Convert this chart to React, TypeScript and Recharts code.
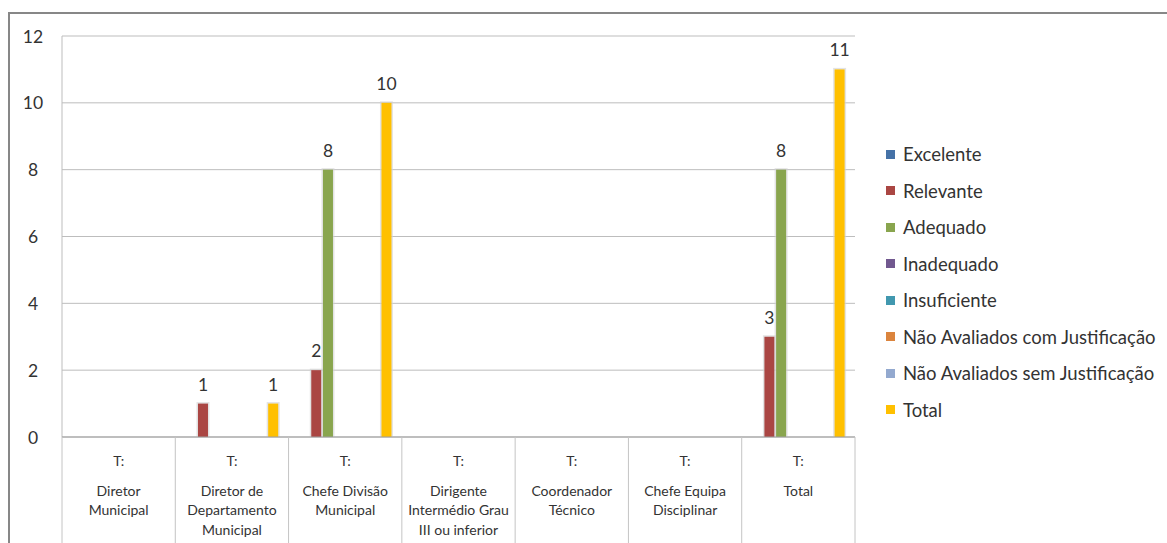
import React from 'react';
import { BarChart, Bar, XAxis, YAxis, CartesianGrid, LabelList } from 'recharts';

const groupLabel = 'T:';
const categories = [
  'Diretor\nMunicipal',
  'Diretor de\nDepartamento\nMunicipal',
  'Chefe Divisão\nMunicipal',
  'Dirigente\nIntermédio Grau\nIII ou inferior',
  'Coordenador\nTécnico',
  'Chefe Equipa\nDisciplinar',
  'Total',
];

const excelente = [0, 0, 0, 0, 0, 0, 0];
const relevante = [0, 1, 2, 0, 0, 0, 3];
const adequado = [0, 0, 8, 0, 0, 0, 8];
const inadequado = [0, 0, 0, 0, 0, 0, 0];
const insuficiente = [0, 0, 0, 0, 0, 0, 0];
const naoAvaliadosCom = [0, 0, 0, 0, 0, 0, 0];
const naoAvaliadosSem = [0, 0, 0, 0, 0, 0, 0];
const total = [0, 1, 10, 0, 0, 0, 11];

const yTicks = [0, 2, 4, 6, 8, 10, 12];

const series = [
  { key: 'excelente', name: 'Excelente', color: '#4572A7', values: excelente },
  { key: 'relevante', name: 'Relevante', color: '#AA4643', values: relevante },
  { key: 'adequado', name: 'Adequado', color: '#89A54E', values: adequado },
  { key: 'inadequado', name: 'Inadequado', color: '#71588F', values: inadequado },
  { key: 'insuficiente', name: 'Insuficiente', color: '#4198AF', values: insuficiente },
  { key: 'naoCom', name: 'Não Avaliados com Justificação', color: '#DB843D', values: naoAvaliadosCom },
  { key: 'naoSem', name: 'Não Avaliados sem Justificação', color: '#93A9CF', values: naoAvaliadosSem },
  { key: 'total', name: 'Total', color: '#FFC000', values: total },
];

const data = categories.map((category, i) => {
  const row: Record<string, string | number> = { category };
  series.forEach((s) => {
    row[s.key] = s.values[i];
  });
  return row;
});

// layout
const WIDTH = 1167;
const HEIGHT = 543;
const PLOT_LEFT = 62;
const PLOT_RIGHT = 855;
const PLOT_TOP = 36;
const PLOT_BOTTOM = 437;
const BAND = (PLOT_RIGHT - PLOT_LEFT) / categories.length;

const FONT = 'Lato, "Open Sans", sans-serif';
const TEXT = '#333333';
const GRID = '#bdbdbd';
const DIVIDER = '#c4c4c4';

const ValueTick = ({ y, payload }: any) => (
  <text x={33} y={y} textAnchor="middle" dominantBaseline="central" fontSize={17.5} fill={TEXT} fontFamily={FONT}>
    {payload.value}
  </text>
);

const CategoryTick = ({ x, payload, index }: any) => {
  const left = x - BAND / 2;
  const lines = String(payload.value).split('\n');
  return (
    <g>
      <line x1={left} x2={left} y1={PLOT_BOTTOM} y2={HEIGHT} stroke={DIVIDER} />
      {index === categories.length - 1 && (
        <line x1={left + BAND} x2={left + BAND} y1={PLOT_BOTTOM} y2={HEIGHT} stroke={DIVIDER} />
      )}
      <text x={x} y={460} textAnchor="middle" dominantBaseline="central" fontSize={14} fill={TEXT} fontFamily={FONT}>
        {groupLabel}
      </text>
      {lines.map((line, i) => (
        <text
          key={i}
          x={x}
          y={490 + i * 19.5}
          textAnchor="middle"
          dominantBaseline="central"
          fontSize={14}
          fill={TEXT}
          fontFamily={FONT}
        >
          {line}
        </text>
      ))}
    </g>
  );
};

// bar with a soft grey halo around it
const HaloBar = (props: any) => {
  const { x, y, width, height, fill } = props;
  if (!height || height <= 0) return null;
  return (
    <g>
      <rect x={x - 1.5} y={y - 1.5} width={width + 3} height={height + 1.5} fill="#d0d0d0" opacity={0.6} />
      <rect x={x} y={y} width={width} height={height} fill={fill} />
    </g>
  );
};

const ValueLabel = ({ x, y, width, value }: any) => {
  if (!value) return null;
  return (
    <text x={x + width / 2} y={y - 13} textAnchor="middle" fontSize={17.5} fill={TEXT} fontFamily={FONT}>
      {value}
    </text>
  );
};

export default function App() {
  return (
    <div style={{ position: 'absolute', left: 0, top: 0, width: WIDTH, height: HEIGHT, background: '#fff', overflow: 'hidden' }}>
      <div
        style={{
          position: 'absolute',
          left: 8,
          top: 12,
          width: WIDTH,
          height: HEIGHT,
          borderTop: '2px solid #878787',
          borderLeft: '2px solid #878787',
        }}
      />
      <div style={{ position: 'absolute', left: 0, top: 0 }}>
        <BarChart
          width={WIDTH}
          height={HEIGHT}
          data={data}
          margin={{ top: PLOT_TOP, right: WIDTH - PLOT_RIGHT, bottom: 0, left: 0 }}
          barSize={10}
          barGap={1.7}
        >
          <CartesianGrid vertical={false} stroke={GRID} />
          <YAxis
            width={PLOT_LEFT}
            domain={[0, 12]}
            ticks={yTicks}
            interval={0}
            axisLine={{ stroke: GRID }}
            tickLine={false}
            tick={<ValueTick />}
          />
          <XAxis
            dataKey="category"
            height={HEIGHT - PLOT_BOTTOM}
            interval={0}
            axisLine={{ stroke: '#9e9e9e' }}
            tickLine={false}
            tick={<CategoryTick />}
          />
          {series.map((s) => (
            <Bar key={s.key} dataKey={s.key} name={s.name} fill={s.color} shape={<HaloBar />} isAnimationActive={false}>
              <LabelList dataKey={s.key} content={<ValueLabel />} />
            </Bar>
          ))}
        </BarChart>
      </div>
      <div style={{ position: 'absolute', left: 886, top: 140 }}>
        {series.map((s, i) => (
          <div
            key={s.key}
            style={{
              position: 'absolute',
              left: 0,
              top: 14 + i * 36.57,
              transform: 'translateY(-50%)',
              display: 'flex',
              alignItems: 'center',
              whiteSpace: 'nowrap',
              fontFamily: FONT,
              fontSize: 18.5,
              color: TEXT,
            }}
          >
            <span style={{ width: 9, height: 9, background: s.color, marginRight: 8, flex: 'none' }} />
            <span>{s.name}</span>
          </div>
        ))}
      </div>
    </div>
  );
}
